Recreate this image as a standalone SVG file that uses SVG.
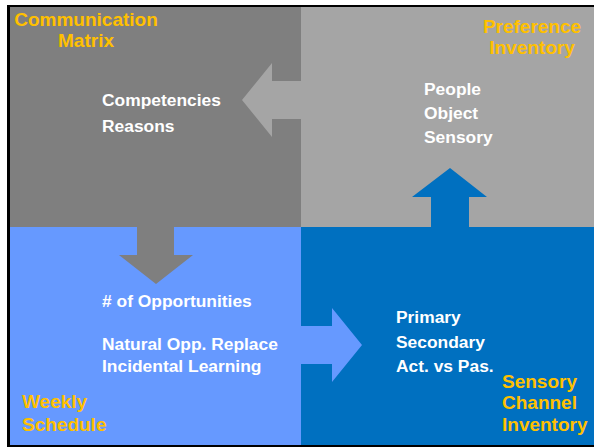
<svg xmlns="http://www.w3.org/2000/svg" width="594" height="447" viewBox="0 0 594 447">
<style>
.t{font-family:"Liberation Sans",Arial,sans-serif;font-weight:bold;font-size:17.4px;fill:#FFFFFF}
.y{font-family:"Liberation Sans",Arial,sans-serif;font-weight:bold;font-size:19px;fill:#FFC000}
</style>
<rect x="0" y="0" width="594" height="447" fill="#FFFFFF"/>
<rect x="7" y="5" width="587" height="442" fill="#000000"/>
<g id="communication-matrix">
<rect x="10" y="7" width="291" height="220" fill="#7F7F7F"/>
<text class="y" x="86" y="26" text-anchor="middle">Communication</text>
<text class="y" x="86" y="47" text-anchor="middle">Matrix</text>
<text class="t" x="102" y="106">Competencies</text>
<text class="t" x="102" y="132">Reasons</text>
</g>
<g id="preference-inventory">
<rect x="301" y="7" width="293" height="220" fill="#A5A5A5"/>
<text class="y" x="532" y="33" text-anchor="middle">Preference</text>
<text class="y" x="532" y="54" text-anchor="middle">Inventory</text>
<text class="t" x="424" y="95">People</text>
<text class="t" x="424" y="119">Object</text>
<text class="t" x="424" y="143">Sensory</text>
</g>
<g id="weekly-schedule">
<rect x="10" y="227" width="291" height="218" fill="#6699FF"/>
<text class="t" x="102" y="307"># of Opportunities</text>
<text class="t" x="102" y="350">Natural Opp. Replace</text>
<text class="t" x="102" y="372">Incidental Learning</text>
<text class="y" x="22" y="408">Weekly</text>
<text class="y" x="22" y="431">Schedule</text>
</g>
<g id="sensory-channel-inventory">
<rect x="301" y="227" width="293" height="218" fill="#0070C0"/>
<text class="t" x="396" y="323">Primary</text>
<text class="t" x="396" y="348">Secondary</text>
<text class="t" x="396" y="372">Act. vs Pas.</text>
<text class="y" x="502" y="388">Sensory</text>
<text class="y" x="502" y="409">Channel</text>
<text class="y" x="502" y="431">Inventory</text>
</g>
<g id="connectors">
<polygon points="301,81 272,81 272,63 242,100 272,137 272,119 301,119" fill="#A5A5A5"/>
<polygon points="137,227 174,227 174,255 193,255 156,284 119,255 137,255" fill="#7F7F7F"/>
<polygon points="431,227 469,227 469,197 487,197 450,168 412,197 431,197" fill="#0070C0"/>
<polygon points="301,326 332,326 332,308 362,345 332,382 332,364 301,364" fill="#6699FF"/>
</g>
</svg>
